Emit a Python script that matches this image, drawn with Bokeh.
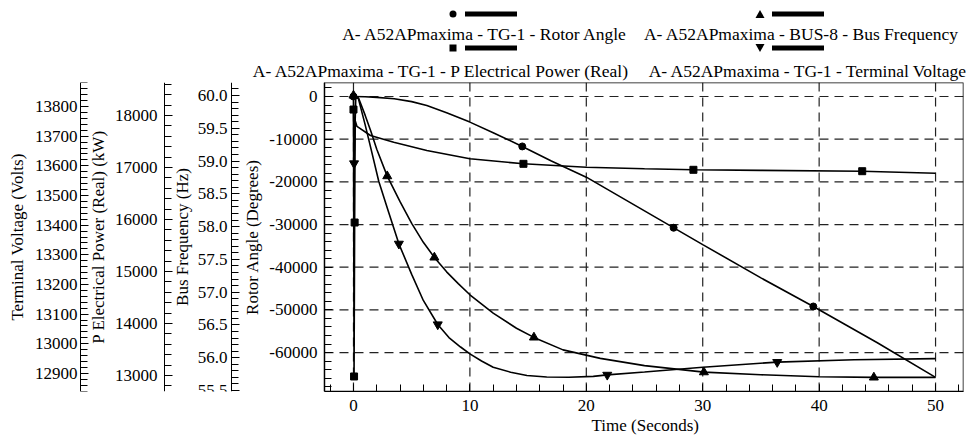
from bokeh.plotting import figure
from bokeh.layouts import column
from bokeh.models import (Range1d, LinearAxis, SingleIntervalTicker, Title,
                          PrintfTickFormatter, BoxAnnotation, Node, Div)
from bokeh.embed import file_html
from bokeh.resources import INLINE

# ---------------- data ----------------
rotor_t = [0, 1, 2, 3.5, 5, 6.3, 8, 10, 12, 14.5, 17, 20, 25, 30, 35, 39.5, 45, 50]
rotor_deg = [0, -50, -200, -540, -1200, -2100, -3800, -6000, -8500, -11700, -15100,
             -18900, -26800, -34700, -42500, -49200, -57700, -65800]
rotor_mark_t = [0, 14.5, 27.5, 39.5]
rotor_mark_v = [0, -11700, -30750, -49200]

power_t = [0, 0.05, 0.1, 0.15, 0.3, 1.46, 3.46, 6.3, 10, 14.6, 20, 25, 29.2, 35, 43.7, 50]
power_kw = [18115, 12981, 15942, 17900, 17790, 17615, 17487, 17327, 17167, 17071, 17006,
            16975, 16956, 16945, 16929, 16890]
power_mark_t = [0, 0.1, 0.05, 14.6, 29.2, 43.7]
power_mark_v = [18115, 15942, 12981, 17071, 16956, 16929]

freq_t = [0, 0.46, 1, 1.5, 2, 2.9, 4, 5, 6, 6.95, 8, 9, 10, 12, 14, 15.5, 18, 21.2, 25,
          30.1, 35, 40, 44.7, 50]
freq_hz = [60.00, 59.95, 59.70, 59.45, 59.18, 58.77, 58.38, 58.05, 57.76, 57.53, 57.31,
           57.13, 56.96, 56.68, 56.45, 56.31, 56.12, 55.99, 55.88, 55.78, 55.74, 55.71,
           55.70, 55.70]
freq_mark_t = [0, 2.9, 6.95, 15.5, 30.1, 44.7]
freq_mark_v = [60.0, 58.77, 57.53, 56.31, 55.78, 55.70]

volt_t = [0, 0.05, 0.2, 0.4, 1.0, 1.5, 2.17, 3.0, 3.9, 5.0, 6.0, 7.24, 8.2, 9.2, 10, 11,
          12, 13.5, 14.9, 16.6, 18.5, 20.6, 21.8, 25, 30, 36.4, 43, 50]
volt_v = [13834, 13608, 13834, 13830, 13739, 13658, 13548, 13446, 13337, 13234, 13146,
          13065, 13021, 12989, 12966, 12942, 12921, 12904, 12893, 12888, 12887, 12890,
          12895, 12905, 12921, 12938, 12946, 12950]
volt_mark_t = [0.05, 3.9, 7.24, 21.8, 36.4]
volt_mark_v = [13608, 13337, 13065, 12895, 12938]

time_ticks = [0, 10, 20, 30, 40, 50]
rotor_ticks = [0, -10000, -20000, -30000, -40000, -50000, -60000]

legend_labels = ["A- A52APmaxima - TG-1 - Rotor Angle",
                 "A- A52APmaxima - BUS-8 - Bus Frequency",
                 "A- A52APmaxima - TG-1 - P Electrical Power (Real)",
                 "A- A52APmaxima - TG-1 - Terminal Voltage"]
legend_markers = ["circle", "triangle", "square", "inverted_triangle"]

# ---------------- layout constants ----------------
W = 971
HDR_H = 82
MAIN_H = 355
BOTTOM = 46
LEG_MX = [453, 760, 453, 760]
LEG_MY = [14, 14, 48, 48]
LEG_TX = [484, 801, 628, 966]
LEG_TY = [34, 34, 71, 71]
LEG_ANCHOR = ["middle", "middle", "end", "end"]

T0, T1 = -2.49, 52.4            # visible time window of the plot box
X_LEFT = -30.32                 # time value at the left edge of the canvas
R0, R1 = -69120, 3280           # rotor-angle range
AX_POS = {"volt": -23.45, "pow": -16.23, "freq": -10.48}   # where the outer axes stand
XLABEL_OFFSET = 591             # left edge of "Time (Seconds)" from the canvas edge, px


def marker_svg(kind, x, y):
    if kind == "circle":
        return f'<circle cx="{x}" cy="{y}" r="3.5" fill="black"/>'
    if kind == "square":
        return f'<rect x="{x-3.5}" y="{y-3.5}" width="7" height="7" fill="black"/>'
    if kind == "triangle":
        return f'<polygon points="{x-4.5},{y+4} {x+4.5},{y+4} {x},{y-4}" fill="black"/>'
    return f'<polygon points="{x-4.5},{y-4} {x+4.5},{y-4} {x},{y+4}" fill="black"/>'


parts = [f'<svg xmlns="http://www.w3.org/2000/svg" width="{W}" height="{HDR_H}" '
         f'style="display:block">']
for i in range(4):
    parts.append(marker_svg(legend_markers[i], LEG_MX[i], LEG_MY[i]))
    parts.append(f'<rect x="{LEG_MX[i]+12}" y="{LEG_MY[i]-2.5}" width="52" height="5" '
                 f'fill="black"/>')
    parts.append(f'<text x="{LEG_TX[i]}" y="{LEG_TY[i]}" '
                 f'style="font-family:\'Liberation Serif\',serif;font-size:17.5px;'
                 f'fill:black;text-anchor:{LEG_ANCHOR[i]};dominant-baseline:central">'
                 f'{legend_labels[i]}</text>')
parts.append('</svg>')
header = Div(text="".join(parts), width=W, height=HDR_H, margin=(0, 0, 0, 0))

# ---------------- main plot ----------------
p = figure(width=W, height=MAIN_H, x_range=Range1d(X_LEFT, T1),
           y_range=Range1d(R0, R1), toolbar_location=None, output_backend="svg",
           min_border_left=0, min_border_right=8, min_border_top=0,
           min_border_bottom=BOTTOM)
p.extra_y_ranges = {"freq": Range1d(55.485, 60.198), "pow": Range1d(12692, 18635),
                    "volt": Range1d(12839, 13881)}
p.outline_line_color = None
p.background_fill_color = "white"
p.xgrid.visible = False
p.ygrid.visible = False


def style_axis(ax, standoff, lab_standoff, size="17px"):
    ax.major_label_text_font = "Liberation Serif"
    ax.major_label_text_font_size = size
    ax.major_label_text_color = "black"
    ax.axis_label_text_font = "Liberation Serif"
    ax.axis_label_text_font_size = size
    ax.axis_label_text_font_style = "normal"
    ax.axis_label_text_color = "black"
    ax.major_label_standoff = standoff
    ax.axis_label_standoff = lab_standoff
    ax.axis_line_color = "black"
    ax.major_tick_line_color = "black"
    ax.minor_tick_line_color = "black"
    ax.major_tick_out = 0
    ax.minor_tick_out = 0
    ax.major_tick_in = 8
    ax.minor_tick_in = 7


# rotor (default) axis, standing on the left side of the plot box
ra = p.yaxis[0]
ra.ticker = SingleIntervalTicker(interval=10000, num_minor_ticks=5)
ra.formatter = PrintfTickFormatter(format="%d")
ra.axis_label = "Rotor Angle (Degrees)"
ra.fixed_location = T0
style_axis(ra, 7, 4)

fa = LinearAxis(y_range_name="freq", axis_label="Bus Frequency (Hz)",
                ticker=SingleIntervalTicker(interval=0.5, num_minor_ticks=5),
                formatter=PrintfTickFormatter(format="%.1f"), fixed_location=AX_POS["freq"])
style_axis(fa, 4, 3)
p.add_layout(fa, "left")

pa = LinearAxis(y_range_name="pow", axis_label="P Electrical Power (Real) (kW)",
                ticker=SingleIntervalTicker(interval=1000, num_minor_ticks=5),
                formatter=PrintfTickFormatter(format="%d"), fixed_location=AX_POS["pow"])
style_axis(pa, 7, 4)
p.add_layout(pa, "left")

va = LinearAxis(y_range_name="volt", axis_label="Terminal Voltage (Volts)",
                ticker=SingleIntervalTicker(interval=100, num_minor_ticks=5),
                formatter=PrintfTickFormatter(format="%d"), fixed_location=AX_POS["volt"])
style_axis(va, 3, 5)
p.add_layout(va, "left")

xa = p.xaxis[0]
xa.ticker = SingleIntervalTicker(interval=10, num_minor_ticks=5)
xa.bounds = (T0, T1)
style_axis(xa, 8, 0)
xa.major_tick_in = 7

# x-axis title, placed under the plot box's centre
p.add_layout(Title(text="Time (Seconds)", align="left", offset=XLABEL_OFFSET, standoff=0,
                   text_font="Liberation Serif", text_font_size="17px",
                   text_font_style="normal", text_color="black"), "below")

# dashed grid inside the plot box
DASH = "9 6"
p.segment(x0=time_ticks, y0=[R0] * len(time_ticks), x1=time_ticks, y1=[R1] * len(time_ticks),
          line_color="#222222", line_width=1.2, line_dash=DASH)
p.segment(x0=[T0] * len(rotor_ticks), y0=rotor_ticks, x1=[T1] * len(rotor_ticks),
          y1=rotor_ticks, line_color="#222222", line_width=1.2, line_dash=DASH)

# shadow of the plot box
p.add_layout(BoxAnnotation(left=Node(target="frame", symbol="right", offset=1),
                           right=Node(target="frame", symbol="right", offset=7),
                           top=Node(target="frame", symbol="top", offset=5),
                           bottom=Node(target="frame", symbol="bottom", offset=7),
                           fill_color="#808080", fill_alpha=1.0, line_color=None,
                           level="underlay", editable=False))
p.add_layout(BoxAnnotation(left=Node(target="frame", symbol="left", offset=331),
                           right=Node(target="frame", symbol="right", offset=7),
                           top=Node(target="frame", symbol="bottom", offset=1),
                           bottom=Node(target="frame", symbol="bottom", offset=7),
                           fill_color="#808080", fill_alpha=1.0, line_color=None,
                           level="underlay", editable=False))

LW = 1.6
p.line(rotor_t, rotor_deg, line_color="black", line_width=LW)
p.scatter(rotor_mark_t, rotor_mark_v, marker="circle", size=7, color="black")

p.line(power_t, power_kw, line_color="black", line_width=LW, y_range_name="pow")
p.scatter(power_mark_t, power_mark_v, marker="square", size=7, color="black",
          y_range_name="pow")

p.line(freq_t, freq_hz, line_color="black", line_width=LW, y_range_name="freq")
p.scatter(freq_mark_t, freq_mark_v, marker="triangle", size=9, color="black",
          y_range_name="freq")

p.line(volt_t, volt_v, line_color="black", line_width=LW, y_range_name="volt")
p.scatter(volt_mark_t, volt_mark_v, marker="inverted_triangle", size=9, color="black",
          y_range_name="volt")

# outline of the plot box
p.add_layout(BoxAnnotation(left=T0, right=T1, bottom=R0, top=R1, fill_color=None,
                           line_color="black", line_width=1.5, line_alpha=1.0,
                           editable=False))

layout = column(header, p, spacing=0)
open("out.html", "w").write(file_html(layout, INLINE))
